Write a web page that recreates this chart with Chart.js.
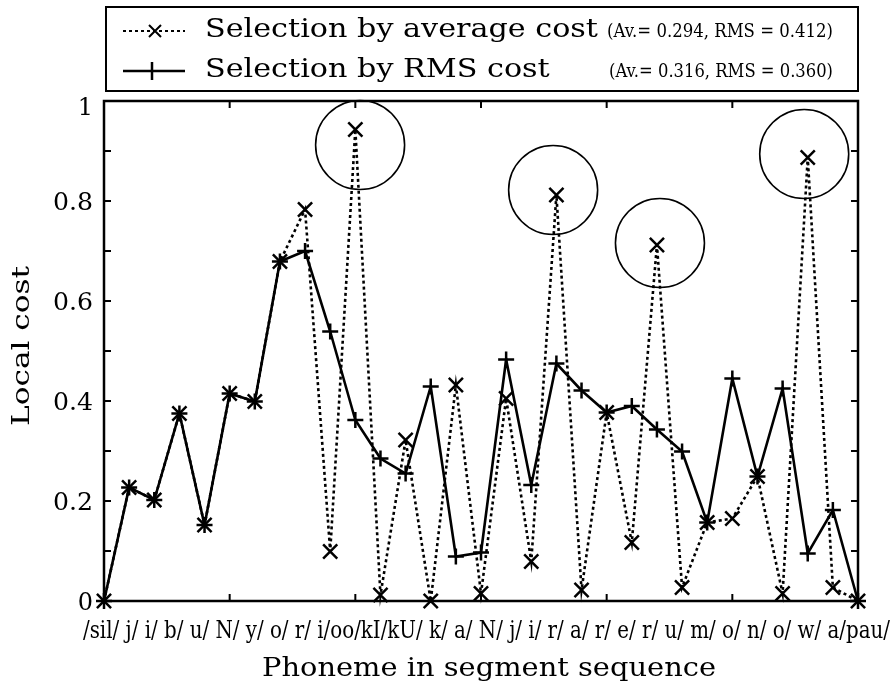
<!DOCTYPE html>
<html><head><meta charset="utf-8">
<style>html,body{margin:0;padding:0;background:#fff;}#wrap{width:896px;height:696px;}</style>
<script src="https://cdn.jsdelivr.net/npm/chart.js@4.4.1/dist/chart.umd.min.js"></script>
</head><body><div id="wrap"><canvas id="c" width="896" height="696"></canvas></div>
<script>
// ---- data ----
const phonemes = ["sil","j","i","b","u","N","y","o","r","i","oo","kI","kU","k","a","N","j","i","r","a","r","e","r","u","m","o","n","o","w","a","pau"];
const avgCost = [0,0.227,0.202,0.375,0.152,0.415,0.399,0.679,0.783,0.099,0.943,0.012,0.322,0.0,0.432,0.015,0.405,0.079,0.812,0.022,0.377,0.117,0.712,0.027,0.157,0.165,0.249,0.015,0.887,0.027,0];
const rmsCost = [0,0.227,0.202,0.375,0.152,0.415,0.399,0.679,0.700,0.539,0.362,0.285,0.255,0.429,0.089,0.097,0.483,0.232,0.475,0.421,0.377,0.390,0.343,0.299,0.157,0.445,0.249,0.425,0.095,0.182,0];
const yTickLabels = [0,0.2,0.4,0.6,0.8,1];
const yMinorTicks = [0.1,0.2,0.3,0.4,0.5,0.6,0.7,0.8,0.9];
const xTicks = [5,10,15,20,25];
const circleCenters = [[10.19,0.912],[17.87,0.822],[22.12,0.716],[27.86,0.894]];
const legendLabels = ["Selection by average cost","Selection by RMS cost"];
const legendStats = ["(Av.= 0.294, RMS = 0.412)","(Av.= 0.316, RMS = 0.360)"];
const xTitle = "Phoneme in segment sequence";
const yTitle = "Local cost";

const FAM = '"DejaVu Serif", "Liberation Serif", serif';
const phonemeString = "/" + phonemes.map((p,i)=>(i>0 && p.length===1 ? " " : "") + p + "/").join("");

// draw text with given font size, squeezed horizontally to a target width
function drawFit(ctx, text, x, y, size, target, align){
  ctx.save();
  ctx.font = size+'px '+FAM;
  const w = ctx.measureText(text).width;
  const s = target ? target/w : 1;
  ctx.translate(x, y); ctx.scale(s, 1);
  ctx.textAlign = align || 'left';
  ctx.fillText(text, 0, 0);
  ctx.restore();
}

const decor = {
  id:'decor',
  beforeDatasetsDraw(chart){
    const ctx = chart.ctx, a = chart.chartArea, xs = chart.scales.x, ys = chart.scales.y;
    ctx.save();
    ctx.strokeStyle='#000'; ctx.lineWidth=2.5; ctx.lineCap='square';
    ctx.strokeRect(a.left, a.top, a.right-a.left, a.bottom-a.top);
    ctx.lineWidth=2; ctx.lineCap='butt';
    const tl=7;
    ctx.beginPath();
    yMinorTicks.forEach(v=>{ const y=ys.getPixelForValue(v);
      ctx.moveTo(a.left,y); ctx.lineTo(a.left+tl,y);
      ctx.moveTo(a.right,y); ctx.lineTo(a.right-tl,y); });
    xTicks.forEach(v=>{ const x=xs.getPixelForValue(v);
      ctx.moveTo(x,a.bottom); ctx.lineTo(x,a.bottom-tl);
      ctx.moveTo(x,a.top); ctx.lineTo(x,a.top+tl); });
    ctx.stroke();
    ctx.lineWidth=1.6;
    circleCenters.forEach(([cx,cy])=>{ ctx.beginPath();
      ctx.arc(xs.getPixelForValue(cx), ys.getPixelForValue(cy), 44.5, 0, Math.PI*2); ctx.stroke(); });
    ctx.restore();
  },
  afterDraw(chart){
    const ctx = chart.ctx, a = chart.chartArea, ys = chart.scales.y;
    ctx.save(); ctx.fillStyle='#000'; ctx.strokeStyle='#000'; ctx.textBaseline='middle';
    // y tick labels
    yTickLabels.forEach(v=>{ const y=ys.getPixelForValue(v) + (v===1?8:3);
      const t=String(v);
      drawFit(ctx, t, a.left-11, y, 24, t.length>1?40:0, 'right'); });
    // y title
    ctx.save(); ctx.translate(22, 346); ctx.rotate(-Math.PI/2);
    drawFit(ctx, yTitle, 0, 0, 25, 160, 'center'); ctx.restore();
    // phoneme string
    drawFit(ctx, phonemeString, 486.5, 632, 24, 807, 'center');
    // x title
    drawFit(ctx, xTitle, 489, 669, 26, 454, 'center');
    // legend
    ctx.lineWidth=2; ctx.strokeRect(106,7,752,84);
    const rows=[37,77], lineY=[31,71];
    ctx.textBaseline='alphabetic';
    drawFit(ctx, legendLabels[0], 205, rows[0], 26, 393, 'left');
    ctx.font='26px '+FAM; const sc = 393/ctx.measureText(legendLabels[0]).width;
    const w2 = ctx.measureText(legendLabels[1]).width*sc;
    drawFit(ctx, legendLabels[1], 205, rows[1], 26, w2, 'left');
    drawFit(ctx, legendStats[0], 833, rows[0], 18, 226, 'right');
    drawFit(ctx, legendStats[1], 833, rows[1], 18, 224, 'right');
    // legend samples
    ctx.lineWidth=2; ctx.setLineDash([3,3]);
    ctx.beginPath(); ctx.moveTo(123,lineY[0]); ctx.lineTo(185,lineY[0]); ctx.stroke();
    ctx.setLineDash([]);
    ctx.beginPath(); ctx.moveTo(149,lineY[0]-6); ctx.lineTo(161,lineY[0]+6); ctx.moveTo(161,lineY[0]-6); ctx.lineTo(149,lineY[0]+6); ctx.stroke();
    ctx.lineWidth=2.5;
    ctx.beginPath(); ctx.moveTo(123,lineY[1]); ctx.lineTo(185,lineY[1]); ctx.moveTo(152,lineY[1]-9); ctx.lineTo(152,lineY[1]+9); ctx.stroke();
    ctx.restore();
  }
};

new Chart(document.getElementById('c'), {
  type:'line',
  data:{ datasets:[
    { label:legendLabels[1], data: rmsCost.map((v,i)=>({x:i,y:v})), borderColor:'#000', borderWidth:2.6,
      pointStyle:'cross', pointRadius:8, pointBorderWidth:2.5, pointBorderColor:'#000', pointBackgroundColor:'#000',
      fill:false, tension:0, clip:false },
    { label:legendLabels[0], data: avgCost.map((v,i)=>({x:i,y:v})), borderColor:'#000', borderWidth:2.6, borderDash:[3,3],
      pointStyle:'crossRot', pointRadius:10, pointBorderWidth:2.5, pointBorderColor:'#000', pointBackgroundColor:'#000',
      fill:false, tension:0, clip:false }
  ]},
  options:{
    responsive:false, animation:false, devicePixelRatio:1,
    layout:{ padding:{ left:104, right:38, top:101, bottom:95 } },
    scales:{ x:{ type:'linear', min:0, max:30, display:false }, y:{ min:0, max:1, display:false } },
    plugins:{ legend:{display:false}, tooltip:{enabled:false} }
  },
  plugins:[decor]
});
</script></body></html>
